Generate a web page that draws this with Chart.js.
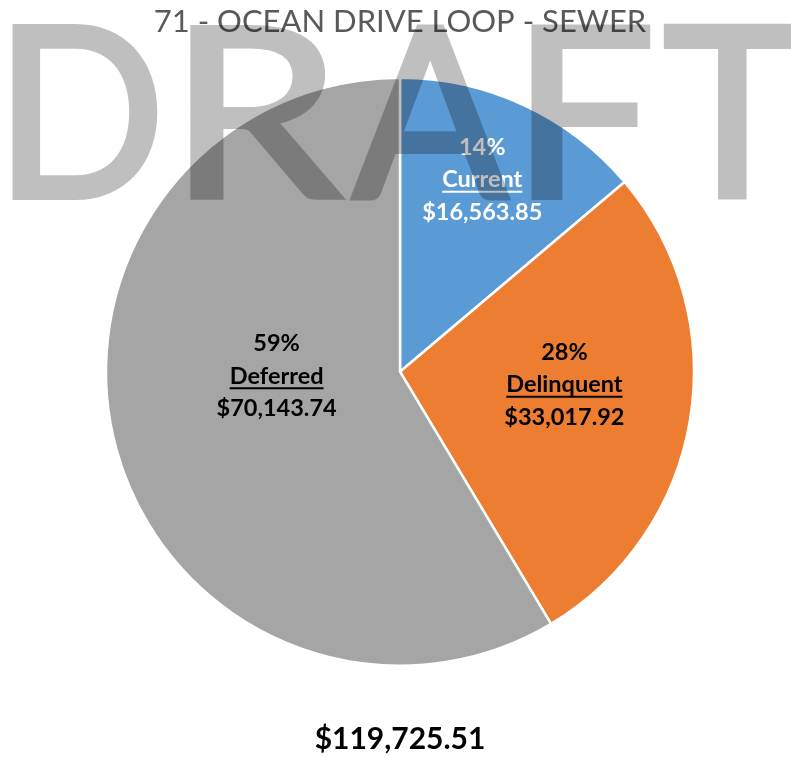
<!DOCTYPE html>
<html>
<head>
<meta charset="utf-8">
<script src="https://cdn.jsdelivr.net/npm/chart.js@4/dist/chart.umd.min.js"></script>
<style>
html,body{margin:0;padding:0;background:#fff;}
#wrap{width:791px;height:757px;position:relative;}
</style>
</head>
<body>
<div id="wrap"><canvas id="c" width="791" height="757"></canvas></div>
<script>
// ---- data ----
const chartTitle = "71 - OCEAN DRIVE LOOP - SEWER";
const categories = ["Current", "Delinquent", "Deferred"];
const amounts = [16563.85, 33017.92, 70143.74];
const sliceColors = ["#5B9BD5", "#ED7D31", "#A5A5A5"];
const labelColors = ["#FFFFFF", "#000000", "#000000"];
const watermarkText = "DRAFT";

const total = amounts.reduce((a, b) => a + b, 0);
const fmtMoney = v => "$" + v.toLocaleString("en-US", {minimumFractionDigits: 2, maximumFractionDigits: 2});

// label placement relative to slice: [radius fraction, angle shift in degrees]
const labelPlace = [[0.71, -1.7], [0.561, -4.9], [0.42, 13.4]];

const labelPlugin = {
  id: "sliceLabels",
  afterDatasetsDraw(chart) {
    const ctx = chart.ctx;
    const meta = chart.getDatasetMeta(0);
    ctx.save();
    ctx.font = "bold 23.5px Lato";
    ctx.textAlign = "center";
    ctx.textBaseline = "middle";
    meta.data.forEach((arc, i) => {
      const {x, y, startAngle, endAngle, outerRadius} = arc.getProps(["x","y","startAngle","endAngle","outerRadius"], true);
      const mid = (startAngle + endAngle) / 2 + labelPlace[i][1] * Math.PI / 180;
      const r = outerRadius * labelPlace[i][0];
      const cx = x + Math.cos(mid) * r;
      const cy = y + Math.sin(mid) * r;
      const pct = Math.round(amounts[i] / total * 100) + "%";
      const lines = [pct, categories[i], fmtMoney(amounts[i])];
      const gap = 32.5;
      ctx.fillStyle = labelColors[i];
      ctx.strokeStyle = labelColors[i];
      lines.forEach((t, k) => {
        const ly = cy + (k - 1) * gap;
        ctx.fillText(t, cx, ly);
        if (k === 1) {
          const w = ctx.measureText(t).width;
          ctx.lineWidth = 2;
          ctx.beginPath();
          ctx.moveTo(cx - w / 2, ly + 12);
          ctx.lineTo(cx + w / 2, ly + 12);
          ctx.stroke();
        }
      });
    });
    ctx.restore();
  }
};

// watermark letter boxes [left, right] in px
const wmBoxes = [[12, 158], [190, 343], [350, 510], [531, 651], [663, 801]];
const watermarkPlugin = {
  id: "watermark",
  afterDraw(chart) {
    const W = chart.width, H = chart.height;
    const off = document.createElement("canvas");
    off.width = W; off.height = H;
    const o = off.getContext("2d");
    o.font = "400 246px Lato";
    o.fillStyle = "#000";
    o.strokeStyle = "#000";
    o.lineJoin = "miter";
    o.textBaseline = "alphabetic";
    o.textAlign = "left";
    const L = 6;                 // extra stroke thickness
    const baseY = 200 - L / 2;
    const capH = 176 - L;
    const sy = capH / o.measureText("H").actualBoundingBoxAscent;
    watermarkText.split("").forEach((ch, i) => {
      const m = o.measureText(ch);
      const inkW = m.actualBoundingBoxLeft + m.actualBoundingBoxRight;
      const l = wmBoxes[i][0] + L / 2, r = wmBoxes[i][1] - L / 2;
      const sx = (r - l) / inkW;
      o.save();
      o.translate(l + m.actualBoundingBoxLeft * sx, baseY);
      o.scale(sx, sy);
      o.lineWidth = L / ((sx + sy) / 2);
      o.fillText(ch, 0, 0);
      o.strokeText(ch, 0, 0);
      o.restore();
    });
    const ctx = chart.ctx;
    ctx.save();
    ctx.globalAlpha = 0.25;
    ctx.drawImage(off, 0, 0);
    ctx.restore();
  }
};

new Chart(document.getElementById("c"), {
  type: "pie",
  data: {
    labels: categories,
    datasets: [{
      data: amounts,
      backgroundColor: sliceColors,
      borderColor: "#FFFFFF",
      borderWidth: 2.5,
      radius: 294
    }]
  },
  options: {
    responsive: false,
    animation: false,
    events: [],
    layout: {padding: {left: 9, right: 0, top: 0, bottom: 0}},
    plugins: {
      legend: {display: false},
      tooltip: {enabled: false},
      title: {
        display: true,
        text: chartTitle,
        color: "#595959",
        font: {family: "Lato", size: 31, weight: "normal", lineHeight: 1.2},
        padding: {top: 3.8, bottom: 0}
      },
      subtitle: {
        display: true,
        position: "bottom",
        text: fmtMoney(total),
        color: "#000000",
        font: {family: "Lato", size: 30, weight: "bold", lineHeight: 1.2},
        padding: {top: 18.6, bottom: 0}
      }
    }
  },
  plugins: [labelPlugin, watermarkPlugin]
});
</script>
</body>
</html>
